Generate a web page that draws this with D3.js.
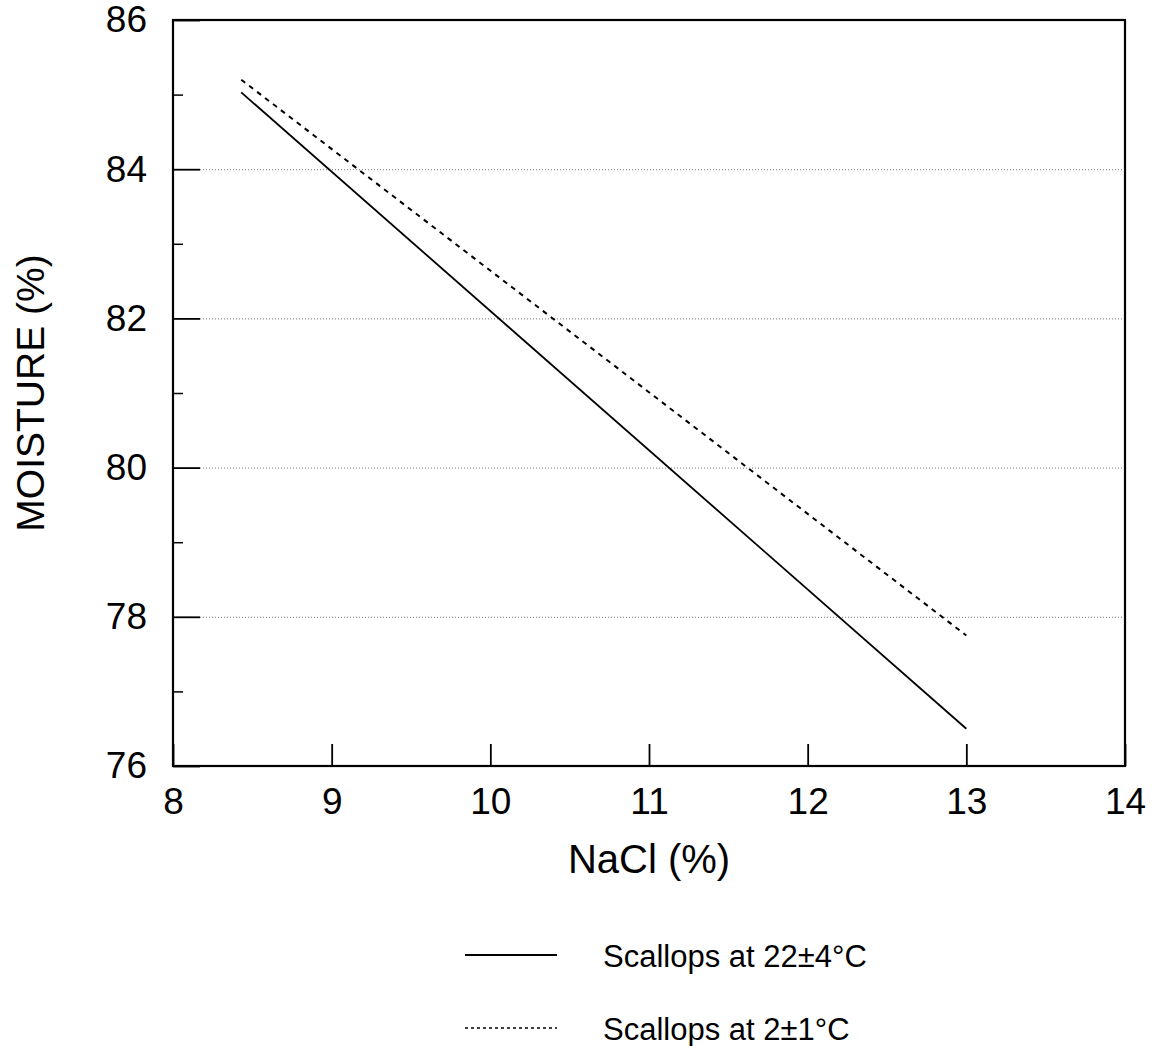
<!DOCTYPE html>
<html>
<head>
<meta charset="utf-8">
<script src="https://cdn.jsdelivr.net/npm/d3@7"></script>
<style>
  body { margin: 0; background: #fff; }
  svg { display: block; font-family: "Liberation Sans", Arial, sans-serif; }
</style>
</head>
<body>
<div id="chart"></div>
<script>
// data (straight-line fits)
const naclWarm = [8.43, 13.0];
const moistWarm = [85.03, 76.5];
const naclCold = [8.43, 13.0];
const moistCold = [85.2, 77.75];
const xTicks = [8, 9, 10, 11, 12, 13, 14];
const yMajor = [76, 78, 80, 82, 84, 86];
const yMinor = [77, 79, 81, 83, 85];
const legendLabels = ['Scallops at 22\u00B14\u00B0C', 'Scallops at 2\u00B11\u00B0C'];

const W = 1158, H = 1046;
const m = { left: 173, right: 1125, top: 20, bottom: 766 };

const svg = d3.select('#chart').append('svg')
  .attr('width', W).attr('height', H);

const x = d3.scaleLinear().domain([8, 14]).range([m.left, m.right]);
const y = d3.scaleLinear().domain([76, 86]).range([m.bottom, m.top]);
const fmt = d3.format('d');

// dotted gridlines
const grid = svg.append('g')
  .attr('transform', `translate(${m.left},0)`)
  .call(d3.axisLeft(y).tickValues([78, 80, 82, 84]).tickSize(-(m.right - m.left)).tickFormat(''));
grid.select('.domain').remove();
grid.selectAll('line')
  .attr('stroke', '#777').attr('stroke-width', 1).attr('stroke-dasharray', '1,2');

// major y ticks + labels
const yAx = svg.append('g')
  .attr('transform', `translate(${m.left},0)`)
  .call(d3.axisLeft(y).tickValues(yMajor).tickFormat(fmt).tickSizeInner(-27).tickSizeOuter(0).tickPadding(26));
yAx.select('.domain').remove();
yAx.selectAll('line').attr('stroke', '#000').attr('stroke-width', 1.8);
yAx.selectAll('text').attr('font-size', 37).attr('fill', '#000')
  .attr('font-family', '"Liberation Sans", Arial, sans-serif');

// minor y ticks
const yMin = svg.append('g')
  .attr('transform', `translate(${m.left},0)`)
  .call(d3.axisLeft(y).tickValues(yMinor).tickSize(-10).tickFormat(''));
yMin.select('.domain').remove();
yMin.selectAll('line').attr('stroke', '#000').attr('stroke-width', 1.5);

// x ticks + labels
const xAx = svg.append('g')
  .attr('transform', `translate(0,${m.bottom})`)
  .call(d3.axisBottom(x).tickValues(xTicks).tickFormat(fmt).tickSizeInner(-22).tickSizeOuter(0).tickPadding(22));
xAx.select('.domain').remove();
xAx.selectAll('line').attr('stroke', '#000').attr('stroke-width', 1.8);
xAx.selectAll('text').attr('font-size', 37).attr('fill', '#000')
  .attr('font-family', '"Liberation Sans", Arial, sans-serif');

// frame
svg.append('rect')
  .attr('x', m.left).attr('y', m.top)
  .attr('width', m.right - m.left).attr('height', m.bottom - m.top)
  .attr('fill', 'none').attr('stroke', '#000').attr('stroke-width', 2.2);

// lines
const line = d3.line().x(d => x(d[0])).y(d => y(d[1]));
svg.append('path')
  .datum(d3.zip(naclWarm, moistWarm))
  .attr('d', line)
  .attr('fill', 'none').attr('stroke', '#000').attr('stroke-width', 1.8);
svg.append('path')
  .datum(d3.zip(naclCold, moistCold))
  .attr('d', line)
  .attr('fill', 'none').attr('stroke', '#000').attr('stroke-width', 2)
  .attr('stroke-dasharray', '5,5');

// axis titles
svg.append('text')
  .attr('x', (m.left + m.right) / 2).attr('y', 873)
  .attr('text-anchor', 'middle').attr('font-size', 40)
  .text('NaCl (%)');
svg.append('text')
  .attr('transform', `translate(44,${(m.top + m.bottom) / 2}) rotate(-90)`)
  .attr('text-anchor', 'middle').attr('font-size', 39)
  .text('MOISTURE (%)');

// legend
const leg = svg.append('g');
legendLabels.forEach((lab, i) => {
  const ly = 955 + i * 73;
  leg.append('line')
    .attr('x1', 465).attr('x2', 557).attr('y1', ly).attr('y2', ly)
    .attr('stroke', '#000').attr('stroke-width', i === 0 ? 1.8 : 1.5)
    .attr('stroke-dasharray', i === 0 ? null : '3,3');
  leg.append('text')
    .attr('x', 603).attr('y', ly + 12)
    .attr('font-size', 31)
    .text(lab);
});
</script>
</body>
</html>
